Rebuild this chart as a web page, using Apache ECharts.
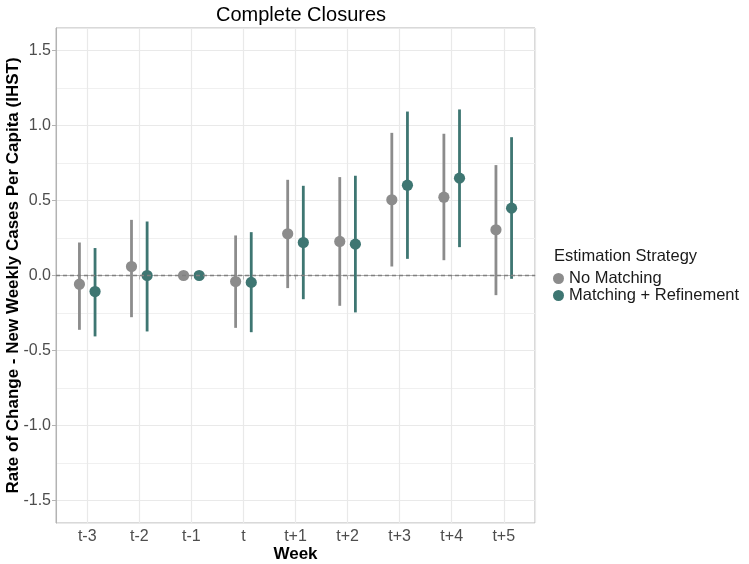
<!DOCTYPE html>
<html>
<head>
<meta charset="utf-8">
<script src="https://cdn.jsdelivr.net/npm/echarts@6/dist/echarts.min.js"></script>
<style>
  html, body { margin: 0; padding: 0; background: #fff; }
  #main { width: 749px; height: 564px; }
</style>
</head>
<body>
<div id="main"></div>
<script>
// weeks relative to closure
const weeks = ['t-3', 't-2', 't-1', 't', 't+1', 't+2', 't+3', 't+4', 't+5'];

// No Matching
const noMatchEst  = [-0.058, 0.060, 0, -0.040, 0.278, 0.227, 0.505, 0.522, 0.305];
const noMatchLow  = [-0.362, -0.278, 0, -0.349, -0.084, -0.202, 0.060, 0.102, -0.131];
const noMatchHigh = [0.220, 0.371, 0, 0.267, 0.638, 0.656, 0.951, 0.945, 0.736];

// Matching + Refinement
const refineEst  = [-0.107, 0.000, 0, -0.046, 0.220, 0.209, 0.602, 0.649, 0.449];
const refineLow  = [-0.406, -0.373, 0, -0.378, -0.158, -0.246, 0.111, 0.189, -0.022];
const refineHigh = [0.183, 0.360, 0, 0.289, 0.598, 0.665, 1.093, 1.107, 0.922];

const seriesNames = ['No Matching', 'Matching + Refinement'];
const GRAY = '#8c8c8c';
const TEAL = '#3e7672';
const DODGE = 0.15;

const myChart = echarts.init(document.getElementById('main'));

// point + range, dodged around the week position
function pointRange(name, color, est, low, high, shift) {
  return {
    type: 'custom',
    name: name,
    itemStyle: { color: color },
    data: weeks.map((w, i) => [i + 1 + shift, est[i], low[i], high[i]]),
    encode: { x: 0, y: [1, 2, 3] },
    renderItem: function (params, api) {
      const mid = api.coord([api.value(0), api.value(1)]);
      const lo = api.coord([api.value(0), api.value(2)]);
      const hi = api.coord([api.value(0), api.value(3)]);
      return {
        type: 'group',
        children: [
          { type: 'line', shape: { x1: lo[0], y1: lo[1], x2: hi[0], y2: hi[1] },
            style: { stroke: color, lineWidth: 2.8 } },
          { type: 'circle', shape: { cx: mid[0], cy: mid[1], r: 5.6 },
            style: { fill: color } }
        ]
      };
    }
  };
}

myChart.setOption({
  animation: false,
  textStyle: { fontFamily: 'Liberation Sans, Arial, sans-serif' },
  title: [
    {
      text: 'Complete Closures',
      left: 296, top: 0, textAlign: 'center',
      textStyle: { fontSize: 20, fontWeight: 'normal', color: '#000' }
    },
    {
      text: 'Estimation Strategy',
      left: 549, top: 243,
      textStyle: { fontSize: 16.5, fontWeight: 'normal', color: '#1a1a1a' }
    }
  ],
  legend: {
    data: seriesNames,
    orient: 'vertical',
    left: 548, top: 265,
    icon: 'circle',
    itemWidth: 11, itemHeight: 11,
    itemGap: 0,
    textStyle: { fontSize: 16.5, color: '#1a1a1a', lineHeight: 16 }
  },
  grid: {
    left: 56, right: 214, top: 28, bottom: 41,
    outerBoundsMode: 'none',
    containLabel: false,
    show: true, borderColor: '#b3b3b3', borderWidth: 1, backgroundColor: '#fff'
  },
  xAxis: {
    type: 'value',
    min: 0.4, max: 9.6,
    minInterval: 1, maxInterval: 1,
    name: 'Week',
    nameLocation: 'middle',
    nameGap: 23,
    nameMoveOverlap: false,
    nameTextStyle: { fontSize: 17, fontWeight: 'bold', color: '#000' },
    axisLine: { show: true, lineStyle: { color: '#b3b3b3' } },
    axisTick: { show: true, length: 4, lineStyle: { color: '#b3b3b3' } },
    axisLabel: {
      fontSize: 16, color: '#4d4d4d', margin: 6,
      showMinLabel: false, showMaxLabel: false,
      formatter: v => Number.isInteger(v) ? weeks[v - 1] : ''
    },
    splitLine: { show: true, lineStyle: { color: '#e9e9e9', width: 1.2 } }
  },
  yAxis: {
    type: 'value',
    min: -1.65, max: 1.65,
    minInterval: 0.5, maxInterval: 0.5,
    name: 'Rate of Change - New Weekly Cases Per Capita (IHST)',
    nameLocation: 'middle',
    nameGap: 34,
    nameMoveOverlap: false,
    nameTextStyle: { fontSize: 17, fontWeight: 'bold', color: '#000' },
    axisLine: { show: true, lineStyle: { color: '#b3b3b3' } },
    axisTick: { show: true, length: 4, lineStyle: { color: '#b3b3b3' } },
    axisLabel: {
      fontSize: 16, color: '#4d4d4d', margin: 5,
      showMinLabel: false, showMaxLabel: false,
      formatter: v => (Math.abs(v * 2 - Math.round(v * 2)) < 1e-9) ? v.toFixed(1) : ''
    },
    splitLine: { show: true, lineStyle: { color: '#e9e9e9', width: 1.2 } },
    minorTick: { show: false, splitNumber: 2 },
    minorSplitLine: { show: true, lineStyle: { color: '#f0f0f0', width: 1 } }
  },
  series: [
    {
      type: 'line',
      data: [],
      silent: true,
      markLine: {
        silent: true,
        symbol: 'none',
        label: { show: false },
        lineStyle: { color: '#808080', type: [4, 3], width: 1.3 },
        data: [{ yAxis: 0 }]
      }
    },
    pointRange(seriesNames[0], GRAY, noMatchEst, noMatchLow, noMatchHigh, -DODGE),
    pointRange(seriesNames[1], TEAL, refineEst, refineLow, refineHigh, DODGE)
  ]
});
</script>
</body>
</html>
